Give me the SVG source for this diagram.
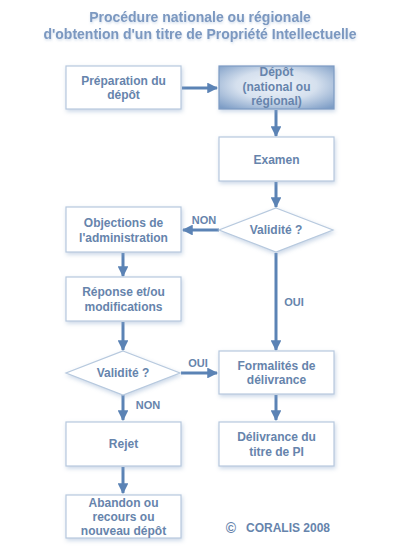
<svg xmlns="http://www.w3.org/2000/svg" width="400" height="554" viewBox="0 0 400 554">
<style>
.box{fill:#ffffff;stroke:#b7c9de;stroke-width:1.2;filter:url(#sh)}
.dia{fill:#ffffff;stroke:#b7c9de;stroke-width:1.2;filter:url(#sh)}
.t{font-family:"Liberation Sans",Arial,sans-serif;font-weight:bold;font-size:12px;fill:#6684ac;text-anchor:middle}
.lbl{font-family:"Liberation Sans",Arial,sans-serif;font-weight:bold;font-size:11px;fill:#6684ac;text-anchor:middle}
.title{font-family:"Liberation Sans",Arial,sans-serif;font-weight:bold;font-size:14px;fill:#7b98c0;text-anchor:middle;filter:url(#tsh)}
.c{stroke:#5b83b5;stroke-width:3;fill:none;marker-end:url(#ah)}
</style>
<defs>
<filter id="sh" x="-20%" y="-20%" width="150%" height="160%">
<feDropShadow dx="1" dy="2" stdDeviation="2" flood-color="#8aa6cc" flood-opacity="0.45"/>
</filter>
<filter id="tsh" x="-10%" y="-30%" width="120%" height="180%">
<feDropShadow dx="0.5" dy="1.5" stdDeviation="1" flood-color="#8aa6cc" flood-opacity="0.4"/>
</filter>
<radialGradient id="g" cx="50%" cy="45%" r="70%">
<stop offset="0" stop-color="#eef3f9"/>
<stop offset="0.5" stop-color="#d5e0ee"/>
<stop offset="1" stop-color="#7d9dc6"/>
</radialGradient>
<marker id="ah" viewBox="0 0 10 10" refX="9" refY="5" markerWidth="3.6" markerHeight="3.6" orient="auto" markerUnits="strokeWidth">
<path d="M0,0 L10,5 L0,10 z" fill="#5b83b5"/>
</marker>
</defs>
<rect width="400" height="554" fill="#ffffff"/>
<text class="title" x="200" y="22">Procédure nationale ou régionale</text>
<text class="title" x="200" y="39">d'obtention d'un titre de Propriété Intellectuelle</text>

<g id="connectors">
<line class="c" x1="182" y1="88" x2="217" y2="88"/>
<line class="c" x1="276" y1="110" x2="276" y2="136"/>
<line class="c" x1="276" y1="182" x2="276" y2="207"/>
<line class="c" x1="219" y1="230" x2="183" y2="230"/>
<line class="c" x1="276" y1="253" x2="276" y2="350"/>
<line class="c" x1="123" y1="253" x2="123" y2="276"/>
<line class="c" x1="123" y1="322" x2="123" y2="350"/>
<line class="c" x1="181" y1="373" x2="217" y2="373"/>
<line class="c" x1="123" y1="395" x2="123" y2="420"/>
<line class="c" x1="276" y1="395" x2="276" y2="420"/>
<line class="c" x1="123" y1="467" x2="123" y2="493"/>
<text class="lbl" x="204" y="224">NON</text>
<text class="lbl" x="294" y="306">OUI</text>
<text class="lbl" x="198" y="367">OUI</text>
<text class="lbl" x="148" y="409">NON</text>
</g>

<g id="preparation">
<rect class="box" x="66" y="66" width="115" height="43"/>
<text class="t" x="123.5" y="85">Préparation du</text>
<text class="t" x="123.5" y="99">dépôt</text>
</g>
<g id="depot">
<rect x="219" y="66" width="115" height="43" fill="url(#g)" stroke="#7d9bc3" stroke-width="1.2" filter="url(#sh)"/>
<text class="t" x="276.5" y="76">Dépôt</text>
<text class="t" x="276.5" y="91">(national ou</text>
<text class="t" x="276.5" y="105">régional)</text>
</g>
<g id="examen">
<rect class="box" x="219" y="137" width="115" height="44"/>
<text class="t" x="276.5" y="164">Examen</text>
</g>
<g id="validite1">
<polygon class="dia" points="276,208 333,230 276,252 219,230"/>
<text class="t" x="276" y="234">Validité ?</text>
</g>
<g id="objections">
<rect class="box" x="66" y="207" width="115" height="45"/>
<text class="t" x="123.5" y="227">Objections de</text>
<text class="t" x="123.5" y="242">l'administration</text>
</g>
<g id="reponse">
<rect class="box" x="66" y="277" width="115" height="44"/>
<text class="t" x="123.5" y="296">Réponse et/ou</text>
<text class="t" x="123.5" y="311">modifications</text>
</g>
<g id="validite2">
<polygon class="dia" points="123,351 180,373 123,395 66,373"/>
<text class="t" x="123" y="377">Validité ?</text>
</g>
<g id="formalites">
<rect class="box" x="219" y="351" width="115" height="43"/>
<text class="t" x="276.5" y="370">Formalités de</text>
<text class="t" x="276.5" y="384">délivrance</text>
</g>
<g id="delivrance">
<rect class="box" x="219" y="422" width="115" height="44"/>
<text class="t" x="276.5" y="441">Délivrance du</text>
<text class="t" x="276.5" y="456">titre de PI</text>
</g>
<g id="rejet">
<rect class="box" x="66" y="422" width="115" height="44"/>
<text class="t" x="123.5" y="448">Rejet</text>
</g>
<g id="abandon">
<rect class="box" x="66" y="495" width="115" height="43"/>
<text class="t" x="123.5" y="507">Abandon ou</text>
<text class="t" x="123.5" y="521">recours ou</text>
<text class="t" x="123.5" y="535">nouveau dépôt</text>
</g>
<text class="t" x="231" y="533" style="font-size:14px">©</text>
<text class="t" x="288" y="532">CORALIS 2008</text>
</svg>
